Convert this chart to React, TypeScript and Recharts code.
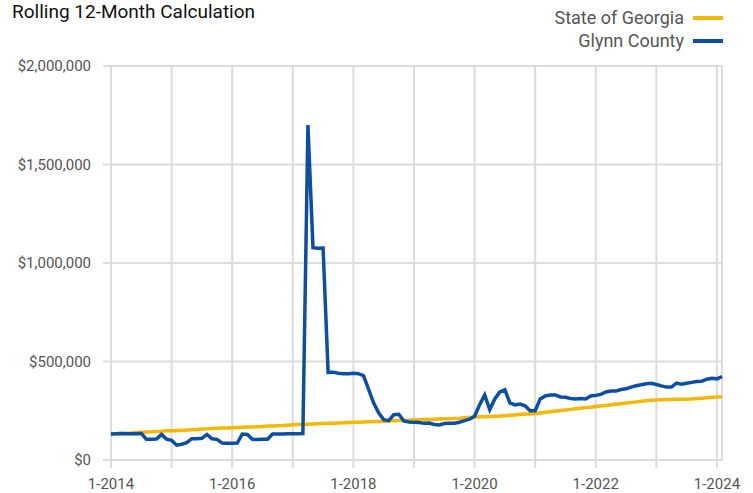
import React from "react";
import {
  LineChart,
  Line,
  XAxis,
  YAxis,
  CartesianGrid,
  ReferenceLine,
} from "recharts";

const FONT = "'Roboto', 'Liberation Sans', sans-serif";

const startYear = 2014;
const yTicks = [0, 500000, 1000000, 1500000, 2000000];
const xTicks = [0, 12, 24, 36, 48, 60, 72, 84, 96, 108, 120];

// one value per month, Jan 2014 .. Feb 2024
const georgia = [
  132000, 133000, 135000, 136000, 137000, 139000, 140000, 142000, 143000, 145000, 146000, 148000,
  149000, 150000, 151000, 152000, 154000, 155000, 157000, 158000, 160000, 161000, 162000, 163000,
  164000, 165000, 166000, 167000, 168000, 169000, 170000, 172000, 173000, 174000, 175000, 177000,
  179000, 180000, 181000, 182000, 183000, 184000, 185000, 186000, 187000, 188000, 189000, 190000,
  191000, 192000, 193000, 194000, 195000, 196000, 197000, 198000, 199000, 200000, 201000, 202000,
  203000, 204000, 205000, 206000, 207000, 208000, 209000, 210000, 211000, 212000, 214000, 216000,
  218000, 219000, 220000, 221000, 222000, 223000, 225000, 227000, 229000, 231000, 233000, 233000,
  236000, 239000, 242000, 245000, 248000, 251000, 254000, 257000, 260000, 263000, 266000, 268000,
  271000, 274000, 277000, 280000, 283000, 286000, 289000, 292000, 295000, 298000, 301000, 303000,
  305000, 306000, 307000, 307000, 308000, 308000, 309000, 310000, 312000, 314000, 316000, 318000,
  320000, 321000,
];

const glynn = [
  132000, 133000, 134000, 133000, 133000, 133000, 135000, 105000, 105000, 106000, 130000, 106000,
  100000, 75000, 80000, 88000, 108000, 108000, 110000, 130000, 108000, 105000, 86000, 85000,
  85000, 86000, 132000, 130000, 105000, 104000, 105000, 105000, 132000, 132000, 132000, 133000,
  133000, 133000, 134000, 1700000, 1078000, 1075000, 1076000, 445000, 446000, 440000, 438000, 438000,
  440000, 438000, 428000, 360000, 290000, 240000, 205000, 200000, 230000, 232000, 198000, 193000,
  191000, 190000, 186000, 188000, 180000, 178000, 185000, 186000, 187000, 192000, 200000, 207000,
  222000, 280000, 330000, 256000, 310000, 345000, 356000, 290000, 280000, 284000, 275000, 250000,
  250000, 310000, 325000, 330000, 330000, 320000, 318000, 312000, 310000, 312000, 310000, 325000,
  328000, 333000, 345000, 350000, 350000, 358000, 362000, 370000, 377000, 382000, 387000, 389000,
  383000, 376000, 370000, 370000, 390000, 385000, 390000, 394000, 398000, 400000, 410000, 415000,
  412000, 424000,
];

const series = [
  { key: "georgia", name: "State of Georgia", color: "#f4b800" },
  { key: "glynn", name: "Glynn County", color: "#0b4ea6" },
];

const data = glynn.map((v, i) => ({ i, georgia: georgia[i], glynn: v }));

const fmtMoney = (v: number) => "$" + v.toLocaleString("en-US");
const fmtMonth = (i: number) => {
  const y = i / 12;
  return y % 2 === 0 ? `1-${startYear + y}` : "";
};

export default function App() {
  return (
    <div style={{ position: "absolute", left: 0, top: 0, width: 753, height: 493, background: "#fff" }}>
      <div
        style={{
          position: "absolute",
          left: 12,
          top: 1,
          fontFamily: FONT,
          fontSize: 19,
          lineHeight: "22px",
          color: "#111",
        }}
      >
        Rolling 12-Month Calculation
      </div>
      <div
        style={{
          position: "absolute",
          right: 30,
          top: 6,
          fontFamily: FONT,
          fontSize: 18,
          color: "#555",
        }}
      >
        {series.map((s) => (
          <div key={s.key} style={{ display: "flex", justifyContent: "flex-end", alignItems: "center", height: 23 }}>
            <span>{s.name}</span>
            <span style={{ display: "inline-block", width: 30, height: 4, background: s.color, marginLeft: 9 }} />
          </div>
        ))}
      </div>
      <LineChart width={753} height={493} data={data} margin={{ top: 66, right: 31, left: 0, bottom: 0 }}>
        <CartesianGrid stroke="#dcdcdc" strokeWidth={2} />
        <XAxis
          dataKey="i"
          type="number"
          domain={[0, 121]}
          ticks={xTicks}
          tickFormatter={fmtMonth}
          interval={0}
          height={33}
          axisLine={false}
          tickLine={{ stroke: "#dcdcdc", strokeWidth: 2 }}
          tickSize={8}
          tickMargin={10}
          tick={{ fill: "#555", fontSize: 15, fontFamily: FONT }}
        />
        <YAxis
          domain={[0, 2000000]}
          ticks={yTicks}
          tickFormatter={fmtMoney}
          width={111}
          axisLine={false}
          tickLine={{ stroke: "#dcdcdc", strokeWidth: 2 }}
          tickSize={8}
          tickMargin={12}
          tick={{ fill: "#555", fontSize: 15, fontFamily: FONT }}
        />
        <ReferenceLine x={121} stroke="#dcdcdc" strokeWidth={2} />
        {series.map((s) => (
          <Line
            key={s.key}
            dataKey={s.key}
            name={s.name}
            stroke={s.color}
            strokeWidth={3.5}
            dot={false}
            type="linear"
            isAnimationActive={false}
          />
        ))}
      </LineChart>
    </div>
  );
}
